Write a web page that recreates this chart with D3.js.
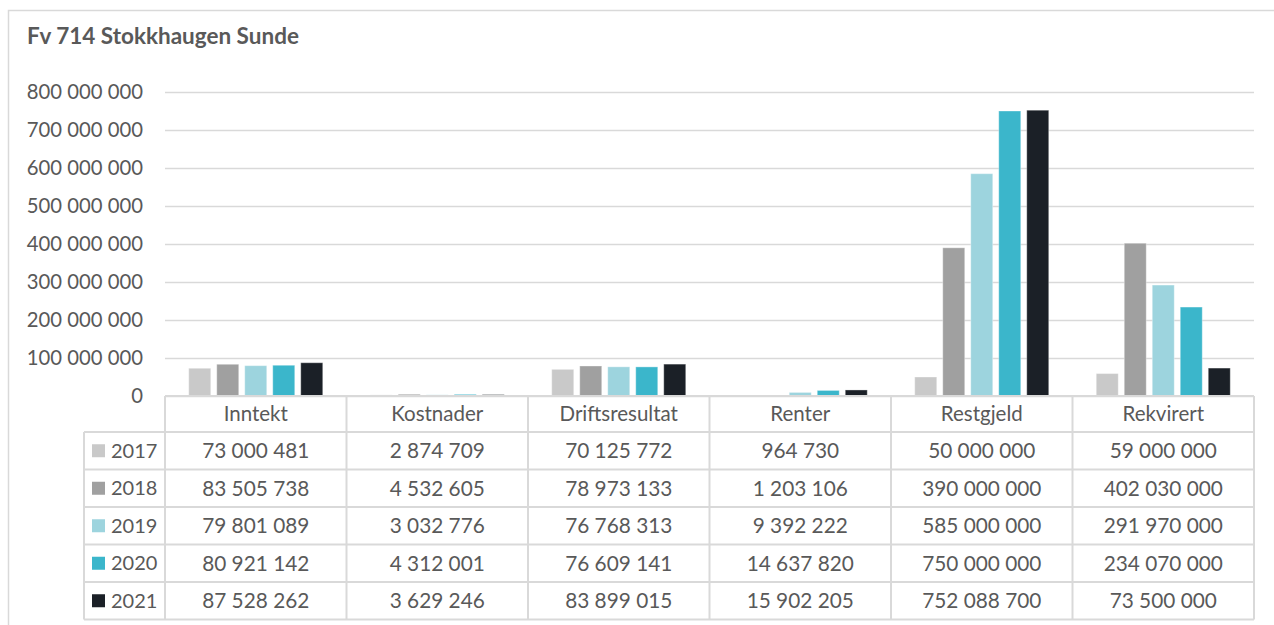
<!DOCTYPE html>
<html>
<head>
<meta charset="utf-8">
<script src="https://cdn.jsdelivr.net/npm/d3@7"></script>
<style>
body { margin: 0; background: #fff; }
text { font-family: Lato, "Open Sans", sans-serif; fill: #595959; }
</style>
</head>
<body>
<div id="chart"></div>
<script>
var categories = ["Inntekt", "Kostnader", "Driftsresultat", "Renter", "Restgjeld", "Rekvirert"];
var years = ["2017", "2018", "2019", "2020", "2021"];
var v2017 = [73000481, 2874709, 70125772, 964730, 50000000, 59000000];
var v2018 = [83505738, 4532605, 78973133, 1203106, 390000000, 402030000];
var v2019 = [79801089, 3032776, 76768313, 9392222, 585000000, 291970000];
var v2020 = [80921142, 4312001, 76609141, 14637820, 750000000, 234070000];
var v2021 = [87528262, 3629246, 83899015, 15902205, 752088700, 73500000];
var yTicks = [0, 100000000, 200000000, 300000000, 400000000, 500000000, 600000000, 700000000, 800000000];
var colors = ["#c9c9c9", "#a0a0a0", "#9dd4de", "#3bb6cb", "#1b2027"];

var series = [v2017, v2018, v2019, v2020, v2021];

var width = 1274, height = 625;
var plot = {left: 165, right: 1254, top: 92, bottom: 396};
var lineColor = "#d9d9d9";

// norwegian style: space as thousands separator
function fmt(n) {
    return String(n).replace(/\B(?=(\d{3})+(?!\d))/g, " ");
}

var svg = d3.select("#chart")
.append("svg")
.attr("width", width)
.attr("height", height);

// outer frame
svg.append("rect")
.attr("x", 8.5).attr("y", 10.5)
.attr("width", 1300).attr("height", 700)
.attr("fill", "none")
.attr("stroke", lineColor)
.attr("stroke-width", 1.5);

svg.append("text")
.attr("x", 27).attr("y", 44)
.attr("font-size", "22.5px")
.attr("font-weight", "bold")
.text("Fv 714 Stokkhaugen Sunde");

var yScale = d3.scaleLinear()
.domain([0, 800000000])
.range([plot.bottom, plot.top]);

var x0 = d3.scaleBand()
.domain(categories)
.range([plot.left, plot.right]);

var x1 = d3.scaleBand()
.domain(years)
.range([0, x0.bandwidth()])
.paddingInner(6 / 28)
.paddingOuter(0.848);

// gridlines
var yAxis = d3.axisLeft(yScale)
.tickValues(yTicks)
.tickSize(-(plot.right - plot.left))
.tickPadding(22)
.tickFormat(fmt);

var gY = svg.append("g")
.attr("transform", "translate(" + plot.left + ",0)")
.call(yAxis);
gY.select(".domain").remove();
gY.selectAll(".tick line")
.attr("stroke", lineColor)
.attr("stroke-width", 1.5);
gY.selectAll(".tick text")
.attr("font-size", "20.3px")
.attr("font-family", "Lato, sans-serif")
.attr("fill", "#595959");

// bars
var groups = svg.selectAll(".grp")
.data(series)
.enter().append("g")
.attr("class", "grp")
.attr("fill", function(d, i) { return colors[i]; });

groups.selectAll("rect")
.data(function(d, i) { return d.map(function(v, j) { return {year: years[i], cat: categories[j], value: v}; }); })
.enter().append("rect")
.attr("x", function(d) { return x0(d.cat) + x1(d.year); })
.attr("y", function(d) { return yScale(d.value); })
.attr("width", x1.bandwidth())
.attr("height", function(d) { return plot.bottom - yScale(d.value); })
.attr("stroke", "#ffffff")
.attr("stroke-opacity", 0.35)
.attr("stroke-width", 1);

// data table
var headerTop = 396, headerBottom = 432, rowH = 37.5;
var legendLeft = 84;
var tableBottom = headerBottom + rowH * years.length;
var tbl = svg.append("g")
.attr("stroke", lineColor)
.attr("stroke-width", 2);

tbl.append("line")
.attr("x1", plot.left).attr("x2", plot.right)
.attr("y1", headerTop).attr("y2", headerTop);
for (var r = 0; r <= years.length; r++) {
    tbl.append("line")
    .attr("x1", legendLeft).attr("x2", plot.right)
    .attr("y1", headerBottom + r * rowH).attr("y2", headerBottom + r * rowH);
}
tbl.append("line")
.attr("x1", legendLeft).attr("x2", legendLeft)
.attr("y1", headerBottom).attr("y2", tableBottom);
var edges = categories.map(function(c) { return x0(c); }).concat([plot.right]);
edges.forEach(function(x) {
    tbl.append("line")
    .attr("x1", x).attr("x2", x)
    .attr("y1", headerTop).attr("y2", tableBottom);
});

svg.selectAll(".catlabel")
.data(categories)
.enter().append("text")
.attr("class", "catlabel")
.attr("x", function(d) { return x0(d) + x0.bandwidth() / 2; })
.attr("y", (headerTop + headerBottom) / 2)
.attr("dy", "0.36em")
.attr("text-anchor", "middle")
.attr("font-size", "20.5px")
.text(function(d) { return d; });

var rows = svg.selectAll(".row")
.data(series)
.enter().append("g")
.attr("class", "row")
.attr("transform", function(d, i) { return "translate(0," + (headerBottom + i * rowH + rowH / 2) + ")"; });

rows.append("rect")
.attr("x", 92).attr("y", -6.5)
.attr("width", 13).attr("height", 13)
.attr("fill", function(d, i) { return colors[i]; });

rows.append("text")
.attr("x", 111)
.attr("dy", "0.36em")
.attr("font-size", "20px")
.text(function(d, i) { return years[i]; });

rows.selectAll(".val")
.data(function(d) { return d; })
.enter().append("text")
.attr("class", "val")
.attr("x", function(d, j) { return x0(categories[j]) + x0.bandwidth() / 2; })
.attr("dy", "0.36em")
.attr("text-anchor", "middle")
.attr("font-size", "20.8px")
.text(function(d) { return fmt(d); });
</script>
</body>
</html>
